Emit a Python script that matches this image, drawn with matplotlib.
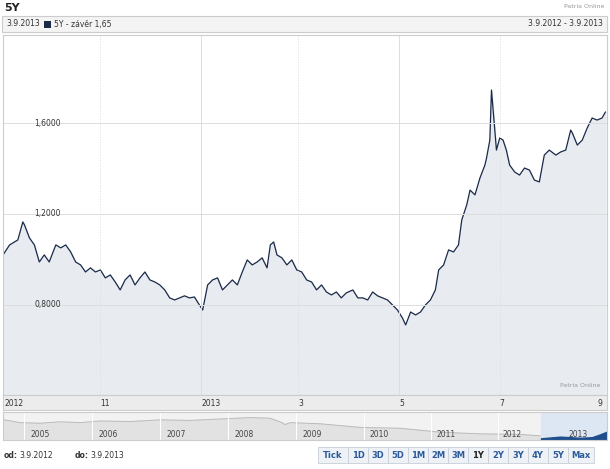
import numpy as np
import matplotlib
matplotlib.use("Agg")
import matplotlib.pyplot as plt
from matplotlib.patches import Rectangle

days = [0,4,9,12,13,16,19,22,25,28,32,35,38,41,44,47,50,53,56,59,62,65,68,71,74,77,80,83,86,89,92,95,98,101,104,107,110,113,116,119,121,124,127,130,133,136,139,142,145,148,151,154,157,160,162,164,166,169,172,175,178,181,184,187,190,193,196,199,202,205,208,212,215,218,221,224,227,230,233,236,239,242,244,247,250,253,256,259,262,264,267,270,273,276,278,281,283,286,289,292,293,295,296,297,299,301,303,305,307,310,313,316,319,322,325,328,331,335,338,341,344,345,348,351,354,357,360,363,365]
ypx = [255,245,240,222,225,238,245,262,255,262,245,248,245,252,262,265,272,268,272,270,278,275,282,290,280,275,285,278,272,280,282,285,290,298,300,298,296,298,297,305,310,285,280,278,290,285,280,285,272,260,265,262,258,268,245,242,255,258,265,260,270,272,280,282,290,285,292,295,292,298,293,290,298,298,300,292,296,298,300,305,310,318,325,312,315,312,305,300,290,270,265,250,252,245,220,205,190,195,178,165,158,140,90,110,150,138,140,150,165,172,175,168,170,180,182,155,150,155,152,150,130,133,145,140,128,118,120,118,112]
n = min(len(days), len(ypx))
days, ypx = days[:n], ypx[:n]
values = [round(0.8 + (305 - y) / 227.5, 3) for y in ypx]

tick_days = [0, 59, 120, 179, 240, 301, 363]
tick_labels = ["2012", "11", "2013", "3", "5", "7", "9"]
yticks = [0.8, 1.2, 1.6]
ytick_labels = ["0,8000", "1,2000", "1,6000"]
nav_labels = ["2005", "2006", "2007", "2008", "2009", "2010", "2011", "2012", "2013"]
nav_label_x = [40, 108, 176, 244, 312, 379, 446, 512, 578]
nav_div_x = [24, 92, 160, 228, 296, 364, 431, 498]
nav_t = [0, 20, 40, 60, 80, 100, 130, 160, 190, 220, 250, 270, 282, 285, 290, 320, 360, 400, 440, 480, 520, 540]
nav_v = [0.75, 0.62, 0.6, 0.65, 0.62, 0.68, 0.66, 0.72, 0.7, 0.75, 0.8, 0.78, 0.62, 0.55, 0.62, 0.58, 0.45, 0.42, 0.28, 0.22, 0.2, 0.15]
buttons = ["Tick", "1D", "3D", "5D", "1M", "2M", "3M", "1Y", "2Y", "3Y", "4Y", "5Y", "Max"]

W, H = 610, 469
fig = plt.figure(figsize=(6.1, 4.69), dpi=100)
def fx(x): return x / W
def fy(y): return 1 - y / H

fig.text(fx(4), fy(8), "5Y", fontsize=8, fontweight="bold", va="center", color="#222")
fig.text(fx(604), fy(7), "Patria Online", fontsize=4.5, ha="right", va="center", color="#999")
fig.patches.append(Rectangle((fx(2), fy(32)), fx(605), 16 / H, transform=fig.transFigure,
                             facecolor="#f4f4f4", edgecolor="#ccc", lw=0.8))
fig.text(fx(6), fy(24), "3.9.2013", fontsize=5.5, va="center", color="#333")
fig.patches.append(Rectangle((fx(44), fy(28)), fx(7), 7 / H, transform=fig.transFigure, facecolor="#1a2b4a"))
fig.text(fx(54), fy(24), "5Y - závěr 1,65", fontsize=5.5, va="center", color="#333")
fig.text(fx(603), fy(24), "3.9.2012 - 3.9.2013", fontsize=5.5, ha="right", va="center", color="#333")

ax = fig.add_axes([fx(3), fy(395), fx(604), 360 / H])
ax.fill_between(days, values, 0, color="#e8ebf0")
ax.plot(days, values, color="#1a2b4a", lw=0.9)
ax.set_xlim(0, 366)
ax.set_ylim(0.404, 1.987)
for d, ls in zip([59, 120, 179, 240, 301], [":", "-", ":", "-", ":"]):
    ax.axvline(d, color="#ddd", lw=0.7, ls=ls)
for yv in yticks:
    ax.axhline(yv, color="#ddd", lw=0.7)
ax.set_xticks([]); ax.set_yticks([])
for yv, lab in zip(yticks, ytick_labels):
    ax.text(35, yv, lab, fontsize=5.5, ha="right", va="center", color="#333")
ax.text(362, 0.44, "Patria Online", fontsize=4.5, ha="right", color="#999")
for s in ax.spines.values():
    s.set_color("#ccc")

ax2 = fig.add_axes([fx(3), fy(410), fx(604), 15 / H])
ax2.set_facecolor("#ececec")
ax2.set_xlim(0, 366); ax2.set_ylim(0, 1)
ax2.set_xticks([]); ax2.set_yticks([])
for s in ax2.spines.values(): s.set_color("#ccc")
for d, lab in zip(tick_days, tick_labels):
    ha = "right" if d == 363 else "left"
    ax2.text(d + (1 if d == 0 else 0), 0.45, lab, fontsize=5.5, ha=ha, va="center", color="#333")

nav = fig.add_axes([fx(3), fy(440), fx(604), 28 / H])
nav.set_xlim(3, 607); nav.set_ylim(0, 1)
nav.set_facecolor("#f2f2f2")
nav.fill_between(nav_t, nav_v, 0, color="#e2e2e2")
nav.plot(nav_t, nav_v, color="#bbbbbb", lw=0.7)
for xd in nav_div_x:
    nav.axvline(xd, color="#fff", lw=0.8)
for xl, lab in zip(nav_label_x, nav_labels):
    nav.text(xl, 0.2, lab, fontsize=5.5, color="#444", ha="center", va="center")
nav.axvspan(541, 607, color="#dde6f3", zorder=0.5)
nav.fill_between([541, 560, 580, 592, 600, 607], [0.06, 0.12, 0.08, 0.1, 0.2, 0.3], 0, color="#1f4e8c")
nav.set_xticks([]); nav.set_yticks([])
for s in nav.spines.values(): s.set_color("#ccc")

fig.text(fx(4), fy(455), "od:", fontsize=5.5, fontweight="bold", va="center", color="#333")
fig.text(fx(19), fy(455), "3.9.2012", fontsize=5.5, va="center", color="#333")
fig.text(fx(75), fy(455), "do:", fontsize=5.5, fontweight="bold", va="center", color="#333")
fig.text(fx(90), fy(455), "3.9.2013", fontsize=5.5, va="center", color="#333")
widths = [30, 20, 20, 20, 20, 20, 20, 20, 20, 20, 20, 20, 26]
x = 318
for b, w in zip(buttons, widths):
    fig.patches.append(Rectangle((fx(x), fy(463)), w / W, 16 / H, transform=fig.transFigure,
                                 facecolor="#eef2f7", edgecolor="#c8cfd8", lw=0.6))
    fig.text(fx(x + w / 2), fy(455), b, fontsize=6, fontweight="bold", ha="center", va="center",
             color="#222" if b == "1Y" else "#2a5a9a")
    x += w
fig.savefig("out.png", dpi=100)
